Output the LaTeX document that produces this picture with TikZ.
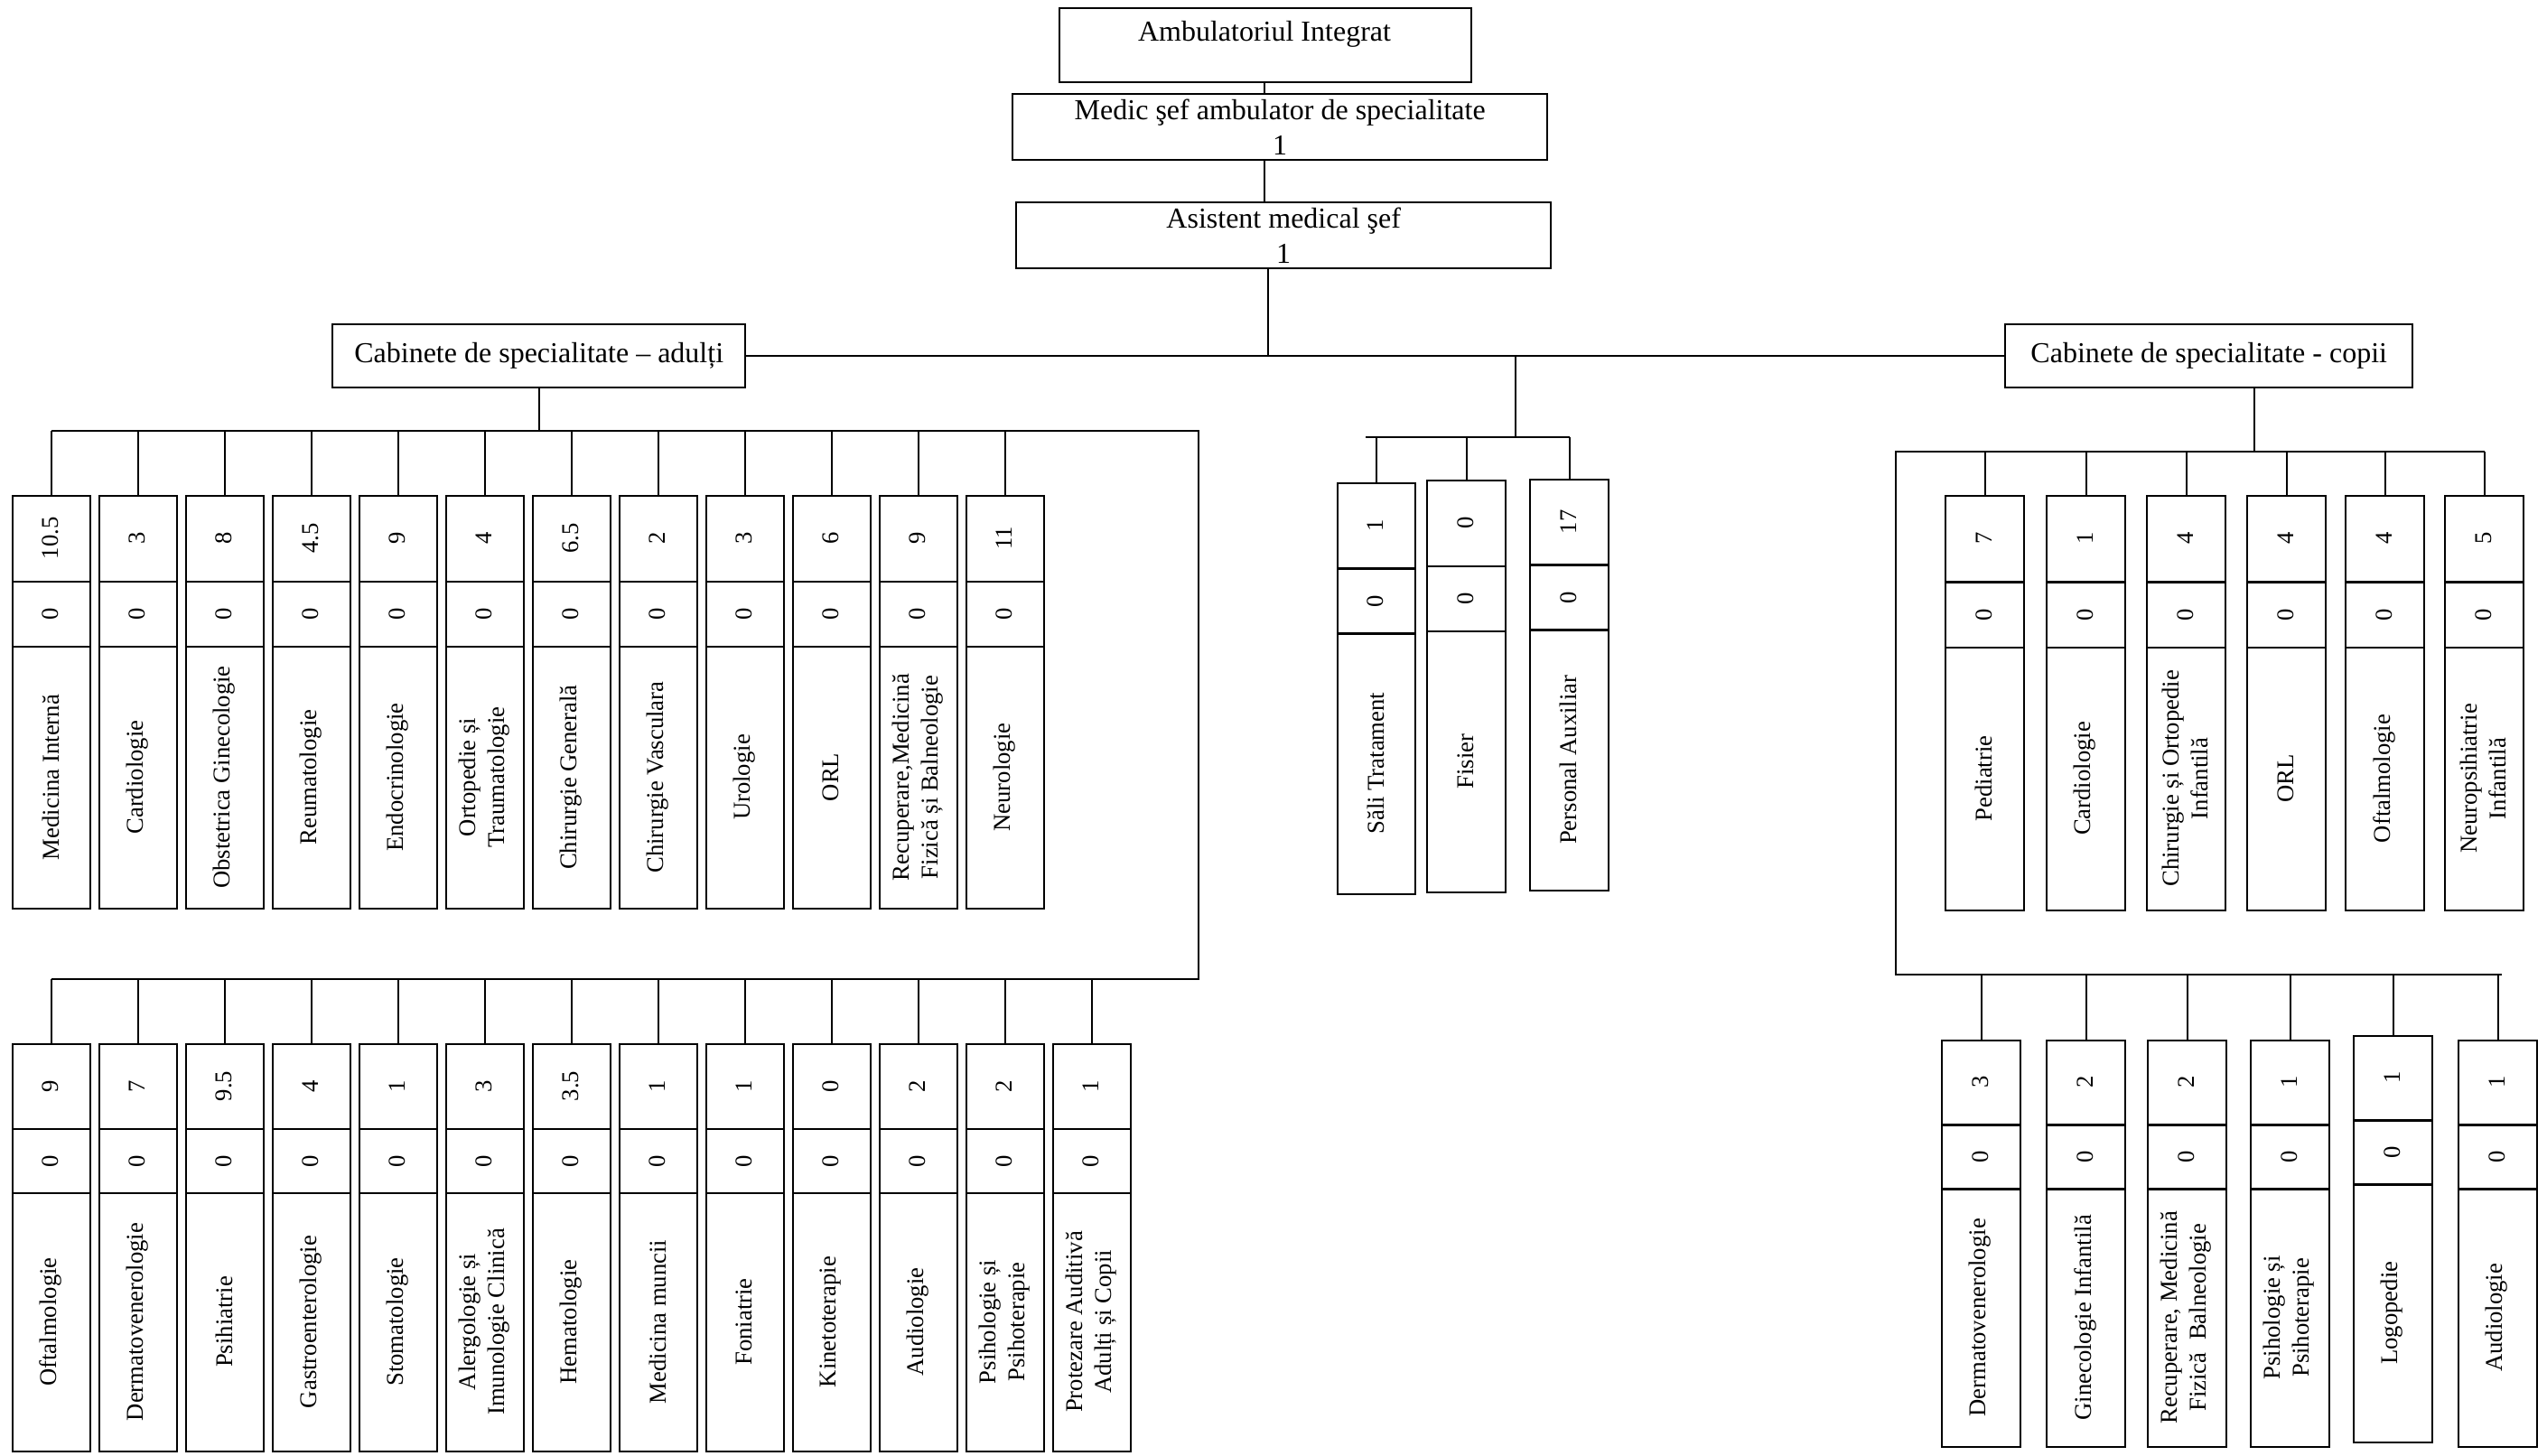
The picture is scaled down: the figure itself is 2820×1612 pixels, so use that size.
\documentclass[tikz,border=0pt]{standalone}
\usepackage{fontspec}
\setmainfont{Liberation Serif}
\newcommand\colcab[8]{%
  \pgfmathsetmacro\cA{0.21*#4}%
  \pgfmathsetmacro\cB{0.368*#4}%
  \node[colbox, minimum width=#5*0.25pt, minimum height=#4*0.25pt] (#1) at (#2,#3) {};
  \draw[boxline] (#2,#3+\cA) -- ++(#5,0);
  \draw[boxline] (#2,#3+\cB) -- ++(#5,0);
  \node[vtext] (#1-a) at (#2+#5/2, #3+\cA/2) {#6};
  \node[vtext] (#1-b) at (#2+#5/2, #3+\cA/2+\cB/2) {#7};
  \node[vtext] (#1-c) at (#2+#5/2, #3+\cB/2+#4/2) {#8};
}
\begin{document}
\begin{tikzpicture}[x=0.25pt,y=-0.25pt,
  boxline/.style={line width=0.6pt},
  conn/.style={line width=0.5pt},
  colbox/.style={draw, line width=0.6pt, inner sep=0pt, anchor=north west},
  hbox/.style={draw, line width=0.6pt, inner sep=0pt, anchor=north west, align=center, font=\fontsize{8}{9.6}\selectfont},
  vtext/.style={rotate=90, font=\fontsize{6.67}{8}\selectfont, align=center, inner sep=0pt},
  htext/.style={font=\fontsize{8}{9.6}\selectfont, align=center, inner sep=0pt}]
\useasboundingbox (0,0) rectangle (2820,1612);

% header
\node[hbox, minimum width=114pt, minimum height=20.5pt] (amb) at (1172,8) {};
\node[htext] (amb-t) at (1400,38) {Ambulatoriul Integrat};
\node[hbox, minimum width=148pt, minimum height=18.25pt] (medic) at (1120,103) {Medic şef ambulator de specialitate\\1};
\node[hbox, minimum width=148pt, minimum height=18.25pt] (asist) at (1124,223) {Asistent medical şef\\1};
\node[hbox, minimum width=114.25pt, minimum height=17.5pt] (adult) at (367,358) {Cabinete de specialitate – adulți};
\node[hbox, minimum width=112.75pt, minimum height=17.5pt] (copii) at (2219,358) {Cabinete de specialitate - copii};

\coordinate (hx) at (1400,0);
\draw[conn] (hx |- amb.south) -- (hx |- medic.north);
\draw[conn] (hx |- medic.south) -- (hx |- asist.north);
\coordinate (j0) at (1404,393);
\draw[conn] (j0 |- asist.south) -- (j0);
\draw[conn] (adult.east) -- (copii.west);

% adult upper row
\colcab{a1}{13}{548}{457}{86}{10.5}{0}{Medicina Internă}
\colcab{a2}{109}{548}{457}{86}{3}{0}{Cardiologie}
\colcab{a3}{205}{548}{457}{86}{8}{0}{Obstetrica Ginecologie}
\colcab{a4}{301}{548}{457}{86}{4.5}{0}{Reumatologie}
\colcab{a5}{397}{548}{457}{86}{9}{0}{Endocrinologie}
\colcab{a6}{493}{548}{457}{86}{4}{0}{Ortopedie și\\Traumatologie}
\colcab{a7}{589}{548}{457}{86}{6.5}{0}{Chirurgie Generală}
\colcab{a8}{685}{548}{457}{86}{2}{0}{Chirurgie Vasculara}
\colcab{a9}{781}{548}{457}{86}{3}{0}{Urologie}
\colcab{a10}{877}{548}{457}{86}{6}{0}{ORL}
\colcab{a11}{973}{548}{457}{86}{9}{0}{Recuperare,Medicină\\Fizică și Balneologie}
\colcab{a12}{1069}{548}{457}{86}{11}{0}{Neurologie}

% adult lower row
\colcab{b1}{13}{1155}{451}{86}{9}{0}{Oftalmologie}
\colcab{b2}{109}{1155}{451}{86}{7}{0}{Dermatovenerologie}
\colcab{b3}{205}{1155}{451}{86}{9.5}{0}{Psihiatrie}
\colcab{b4}{301}{1155}{451}{86}{4}{0}{Gastroenterologie}
\colcab{b5}{397}{1155}{451}{86}{1}{0}{Stomatologie}
\colcab{b6}{493}{1155}{451}{86}{3}{0}{Alergologie și\\Imunologie Clinică}
\colcab{b7}{589}{1155}{451}{86}{3.5}{0}{Hematologie}
\colcab{b8}{685}{1155}{451}{86}{1}{0}{Medicina muncii}
\colcab{b9}{781}{1155}{451}{86}{1}{0}{Foniatrie}
\colcab{b10}{877}{1155}{451}{86}{0}{0}{Kinetoterapie}
\colcab{b11}{973}{1155}{451}{86}{2}{0}{Audiologie}
\colcab{b12}{1069}{1155}{451}{86}{2}{0}{Psihologie și\\Psihoterapie}
\colcab{b13}{1165}{1155}{451}{86}{1}{0}{Protezare Auditivă\\Adulți și Copii}

% adult connectors
\coordinate (aR1) at (1327,477);
\coordinate (aR2) at (1327,1084);
\draw[conn] (adult.south) -- (adult.south |- aR1);
\draw[conn] (a1.north |- aR1) -- (aR1) -- (aR2) -- (b1.north |- aR2);
\foreach \i in {1,...,12} \draw[conn] (a\i.north) -- (a\i.north |- aR1);
\foreach \i in {1,...,13} \draw[conn] (b\i.north) -- (b\i.north |- aR2);

% middle group
\colcab{m1}{1480}{534}{455}{86}{1}{0}{Săli Tratament}
\colcab{m2}{1579}{531}{456}{87}{0}{0}{Fisier}
\colcab{m3}{1693}{530}{455}{87}{17}{0}{Personal Auxiliar}
\coordinate (mTop) at (1678,393);
\coordinate (mBus) at (1678,484);
\draw[conn] (mTop) -- (mBus);
\draw[conn] ([xshift=-3pt]m1.north |- mBus) -- (m3.north |- mBus);
\foreach \i in {1,2,3} \draw[conn] (m\i.north) -- (m\i.north |- mBus);

% copii upper row
\colcab{c1}{2153}{548}{459}{87}{7}{0}{Pediatrie}
\colcab{c2}{2265}{548}{459}{87}{1}{0}{Cardiologie}
\colcab{c3}{2376}{548}{459}{87}{4}{0}{Chirurgie și Ortopedie\\Infantilă}
\colcab{c4}{2487}{548}{459}{87}{4}{0}{ORL}
\colcab{c5}{2596}{548}{459}{87}{4}{0}{Oftalmologie}
\colcab{c6}{2706}{548}{459}{87}{5}{0}{Neuropsihiatrie\\Infantilă}

% copii lower row
\colcab{d1}{2149}{1151}{450}{87}{3}{0}{Dermatovenerologie}
\colcab{d2}{2265}{1151}{450}{87}{2}{0}{Ginecologie Infantilă}
\colcab{d3}{2377}{1151}{450}{87}{2}{0}{Recuperare, Medicină\\Fizică~~Balneologie}
\colcab{d4}{2491}{1151}{450}{87}{1}{0}{Psihologie și\\Psihoterapie}
\colcab{d5}{2605}{1146}{450}{87}{1}{0}{Logopedie}
\colcab{d6}{2721}{1151}{450}{87}{1}{0}{Audiologie}

% copii connectors
\coordinate (cJ) at (2496,500);
\coordinate (cL1) at (2099,500);
\coordinate (cL2) at (2099,1079);
\coordinate (cR2) at (2770,1079);
\draw[conn] (cJ |- copii.south) -- (cJ);
\draw[conn] (c6.north |- cL1) -- (cL1) -- (cL2) -- (cR2);
\foreach \i in {1,...,6} \draw[conn] (c\i.north) -- (c\i.north |- cL1);
\foreach \i in {1,...,6} \draw[conn] (d\i.north) -- (d\i.north |- cL2);
\end{tikzpicture}
\end{document}
